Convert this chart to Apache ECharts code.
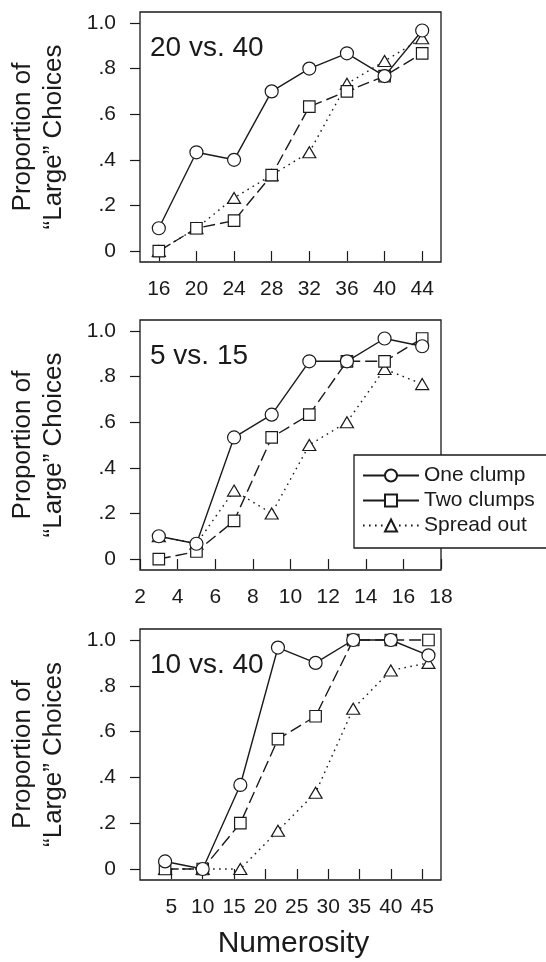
<!DOCTYPE html>
<html>
<head>
<meta charset="utf-8">
<script src="https://cdn.jsdelivr.net/npm/echarts@6/dist/echarts.min.js"></script>
<style>
html,body{margin:0;padding:0;background:#fff;}
#chart{width:546px;height:962px;}
</style>
</head>
<body>
<div id="chart"></div>
<script>
// ---- data ----
const seriesNames = ['One clump', 'Two clumps', 'Spread out'];
const panelTitles = ['20 vs. 40', '5 vs. 15', '10 vs. 40'];

const x1 = [16, 20, 24, 28, 32, 36, 40, 44];
const oneClump1 = [0.1, 0.433, 0.4, 0.7, 0.8, 0.867, 0.767, 0.967];
const twoClumps1 = [0, 0.1, 0.133, 0.333, 0.633, 0.7, 0.767, 0.867];
const spread1 = [0, 0.1, 0.233, 0.333, 0.433, 0.733, 0.833, 0.933];

const x2 = [3, 5, 7, 9, 11, 13, 15, 17];
const oneClump2 = [0.1, 0.067, 0.533, 0.633, 0.867, 0.867, 0.967, 0.933];
const twoClumps2 = [0, 0.033, 0.167, 0.533, 0.633, 0.867, 0.867, 0.967];
const spread2 = [0.1, 0.067, 0.3, 0.2, 0.5, 0.6, 0.833, 0.767];

const x3 = [4, 10, 16, 22, 28, 34, 40, 46];
const oneClump3 = [0.033, 0, 0.367, 0.967, 0.9, 1, 1, 0.933];
const twoClumps3 = [0, 0, 0.2, 0.567, 0.667, 1, 1, 1];
const spread3 = [0, 0, 0, 0.167, 0.333, 0.7, 0.867, 0.9];

const xTicks1 = [16, 20, 24, 28, 32, 36, 40, 44];
const xTicks2 = [2, 4, 6, 8, 10, 12, 14, 16, 18];
const xTicks3 = [5, 10, 15, 20, 25, 30, 35, 40, 45];
const yTickValues = [0, 0.2, 0.4, 0.6, 0.8, 1.0];
const yTickLabels = ['0', '.2', '.4', '.6', '.8', '1.0'];

const yLabelLine1 = 'Proportion of';
const yLabelLine2 = '\u201cLarge\u201d Choices';
const xAxisTitle = 'Numerosity';

// ---- layout / style ----
const FONT = "'Liberation Sans', Arial, Helvetica, sans-serif";
const INK = '#1a1a1a';
const grids = [
  {left: 140, width: 301, top: 12, height: 250},
  {left: 140, width: 301, top: 320, height: 250},
  {left: 140, width: 301, top: 629, height: 251}
];
const xRanges = [[14, 46], [2, 18], [0, 48]];
const xTickSets = [xTicks1, xTicks2, xTicks3];
const panels = [
  {x: x1, ys: [oneClump1, twoClumps1, spread1]},
  {x: x2, ys: [oneClump2, twoClumps2, spread2]},
  {x: x3, ys: [oneClump3, twoClumps3, spread3]}
];
const symbols = ['circle', 'rect', 'triangle'];
const symbolSizes = [13, 11.5, [13, 11]];
const lineTypes = ['solid', [12, 5], [1.6, 4.4]];

const option = {
  animation: false,
  backgroundColor: '#fff',
  grid: grids.map(g => Object.assign({show: true, borderColor: INK, borderWidth: 1.3, backgroundColor: 'transparent'}, g)),
  xAxis: grids.map((g, i) => ({
    type: 'value', gridIndex: i,
    min: xRanges[i][0], max: xRanges[i][1],
    axisLine: {show: false},
    splitLine: {show: false},
    axisTick: {show: true, length: 10, lineStyle: {color: INK, width: 1.2}, customValues: xTickSets[i]},
    axisLabel: {show: true, margin: 17, fontSize: 21, color: INK, fontFamily: FONT, customValues: xTickSets[i]}
  })),
  yAxis: grids.map((g, i) => ({
    type: 'value', gridIndex: i,
    min: -0.048, max: 1.048,
    axisLine: {show: false},
    splitLine: {show: false},
    axisTick: {show: true, length: 10, lineStyle: {color: INK, width: 1.2}, customValues: yTickValues},
    axisLabel: {show: true, margin: 24, fontSize: 21, color: INK, fontFamily: FONT, customValues: yTickValues,
      formatter: v => { const k = yTickValues.findIndex(t => Math.abs(t - v) < 1e-6); return k >= 0 ? yTickLabels[k] : ''; }}
  })),
  legend: {
    orient: 'vertical',
    left: 354, top: 455,
    padding: [10, 10, 12, 8],
    itemGap: 4,
    itemWidth: 56, itemHeight: 15,
    borderWidth: 0,
    z: 5,
    textStyle: {fontSize: 21, color: INK, fontFamily: FONT, lineHeight: 21, padding: [0, 0, 0, 0]},
    data: [
      {name: seriesNames[0]},
      {name: seriesNames[1], lineStyle: {type: 'solid'}},
      {name: seriesNames[2]}
    ]
  },
  series: [],
  graphic: [
    // legend frame, open past the right edge like the reference
    {type: 'rect', z: 4, shape: {x: 354, y: 455, width: 260, height: 93},
      style: {fill: '#fff', stroke: INK, lineWidth: 1.3}}
  ]
};

panels.forEach((p, i) => {
  p.ys.forEach((ys, k) => {
    option.series.push({
      type: 'line', name: seriesNames[k],
      xAxisIndex: i, yAxisIndex: i,
      data: p.x.map((xv, j) => [xv, ys[j]]),
      symbol: symbols[k], symbolSize: symbolSizes[k],
      showAllSymbol: true,
      itemStyle: {color: '#fff', borderColor: INK, borderWidth: 1.2},
      lineStyle: {color: INK, width: 1.4, type: lineTypes[k]},
      emphasis: {disabled: true},
      z: 3 - k
    });
  });
  const g = grids[i];
  const cy = g.top + g.height / 2;
  option.graphic.push(
    {type: 'text', x: g.left + 10, y: g.top + 36, style: {text: panelTitles[i], font: '28px ' + FONT, fill: INK, textAlign: 'left', textVerticalAlign: 'middle'}},
    {type: 'text', x: 23, y: cy, rotation: Math.PI / 2, style: {text: yLabelLine1, font: '26px ' + FONT, fill: INK, textAlign: 'center', textVerticalAlign: 'middle'}},
    {type: 'text', x: 54, y: cy, rotation: Math.PI / 2, style: {text: yLabelLine2, font: '26px ' + FONT, fill: INK, textAlign: 'center', textVerticalAlign: 'middle'}}
  );
});
option.graphic.push({type: 'text', x: grids[2].left + grids[2].width / 2 + 3, y: 944,
  style: {text: xAxisTitle, font: '30px ' + FONT, fill: INK, textAlign: 'center', textVerticalAlign: 'middle'}});

const chart = echarts.init(document.getElementById('chart'), null, {renderer: 'canvas'});
chart.setOption(option);
</script>
</body>
</html>
